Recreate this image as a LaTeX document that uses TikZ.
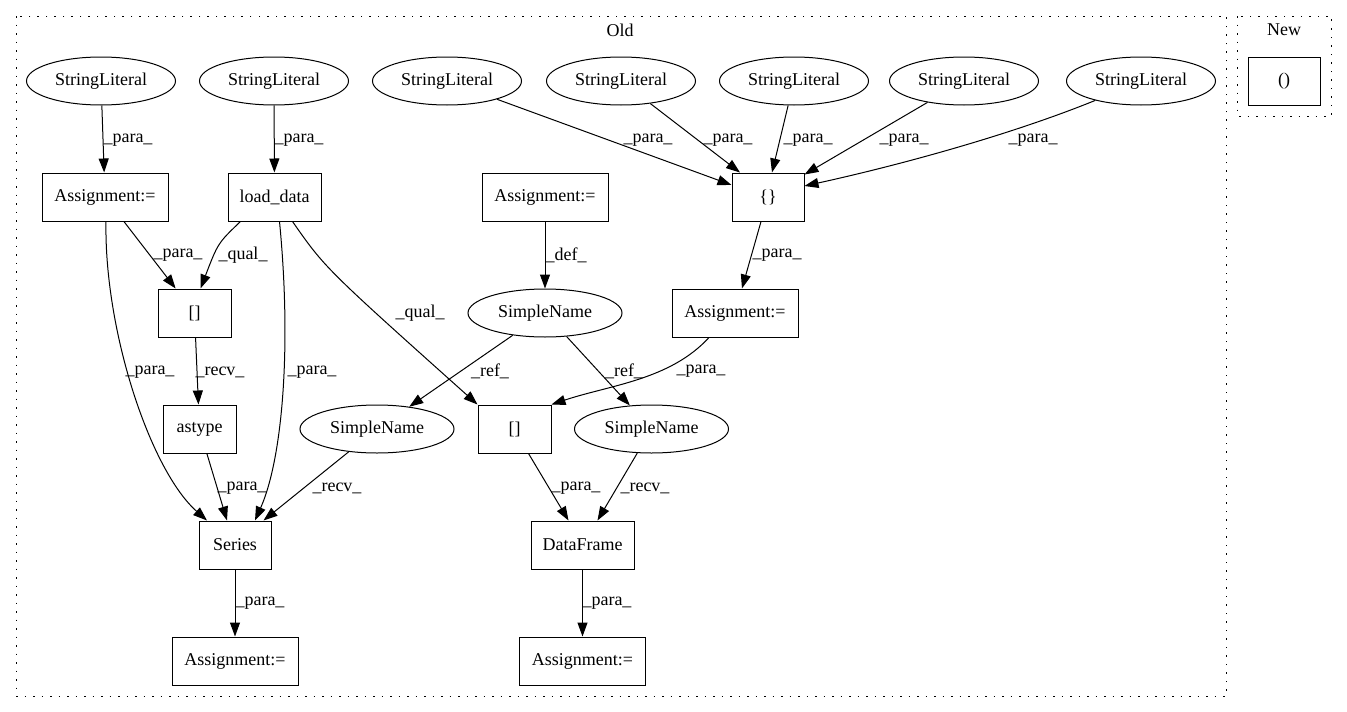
\documentclass[tikz,border=0pt]{standalone}
\usepackage{fontspec}
\setmainfont{Liberation Serif}
\usetikzlibrary{arrows.meta,shapes.geometric,calc}
\begin{document}
\begin{tikzpicture}[x=1pt,y=-1pt,
  every node/.style={font=\fontsize{18}{20}\selectfont},
  ell/.style={draw, ellipse, minimum width=149pt, minimum height=48pt, inner sep=0pt, line width=1pt},
  box/.style={draw, rectangle, minimum height=48pt, inner sep=0pt, line width=1pt},
  lbl/.style={inner sep=0pt},
  edge/.style={draw, line width=1pt, -{Triangle[length=14pt,width=10pt]}},
  cluster/.style={draw, line width=1pt, dash pattern=on 1.5pt off 7pt}]
\useasboundingbox (0,0) rectangle (1347,712);
\fill[white] (0,0) rectangle (1347,712);
% clusters
\draw[cluster] (16,16) rectangle (1226,696);
\node (oldlbl) at (620,30) {Old};
\draw[cluster] (1237,16) rectangle (1331,116);
\node (newlbl) at (1284,30) {New};
\node[box, minimum width=72pt] (nw) at (1284,81) {()};
% row 1
\node[ell] (sl1) at (101,81) {StringLiteral};
\node[ell] (sl2) at (274,81) {StringLiteral};
\node[ell] (sl3) at (447,81) {StringLiteral};
\node[ell] (sl4) at (621,81) {StringLiteral};
\node[ell] (sl5) at (794,81) {StringLiteral};
\node[ell] (sl6) at (964,81) {StringLiteral};
\node[ell] (sl7) at (1141,81) {StringLiteral};
% row 2
\node[box, minimum width=126pt] (a1) at (105,197) {Assignment:=};
\node[box, minimum width=93pt] (ld) at (274.5,197) {load\_data};
\node[box, minimum width=126pt] (a2) at (545,197) {Assignment:=};
\node[box, minimum width=72pt] (cb) at (768,197) {\{\}};
% row 3
\node[box, minimum width=73pt] (bl) at (194.5,313) {[]};
\node[ell, minimum width=154pt] (sn1) at (545,313) {SimpleName};
\node[box, minimum width=126pt] (a3) at (735,313) {Assignment:=};
% row 4
\node[box, minimum width=73pt] (ast) at (199.5,429) {astype};
\node[ell, minimum width=154pt] (snl) at (377,429) {SimpleName};
\node[box, minimum width=73pt] (bm) at (514.5,429) {[]};
\node[ell, minimum width=154pt] (snr) at (651.5,429) {SimpleName};
% row 5
\node[box, minimum width=72pt] (se) at (235,545) {Series};
\node[box, minimum width=103pt] (df) at (582.5,545) {DataFrame};
% row 6
\node[box, minimum width=126pt] (a4) at (235,661) {Assignment:=};
\node[box, minimum width=126pt] (a5) at (582.5,661) {Assignment:=};
% edges
\path[edge] (sl1) -- (a1);
\node[lbl] (l1) at (128,140) {\_para\_};
\path[edge] (sl2) -- (ld);
\node[lbl] (l2) at (299,140) {\_para\_};
\path[edge] (sl3) -- ([yshift=12pt]cb.west);
\node[lbl] (l3) at (648,140) {\_para\_};
\path[edge] (sl4) -- ([xshift=-28pt]cb.north);
\node[lbl] (l4) at (728,140) {\_para\_};
\path[edge] (sl5) -- ([xshift=4pt]cb.north);
\node[lbl] (l5) at (808,140) {\_para\_};
\path[edge] (sl6) -- ([yshift=-2pt]cb.north east);
\node[lbl] (l6) at (904,140) {\_para\_};
\path[edge] (sl7.203) .. controls (1010,135) and (900,165) .. ([yshift=11pt]cb.east);
\node[lbl] (l7) at (1033,140) {\_para\_};
\path[edge] (a2) -- (sn1);
\node[lbl] (l8) at (566,255) {\_def\_};
\path[edge] (cb) -- (a3);
\node[lbl] (l9) at (777,255) {\_para\_};
\path[edge] (a1) -- (bl);
\node[lbl] (l10) at (178,255) {\_para\_};
\path[edge] ([xshift=-34pt]ld.south) .. controls (218,243) .. ([xshift=6pt]bl.north);
\node[lbl] (l11) at (243,255) {\_qual\_};
\path[edge] ([xshift=18pt]ld.south) .. controls (325,268) .. (bm.north west);
\node[lbl] (l12) at (420,313) {\_qual\_};
\path[edge] ([xshift=1pt]a1.south) .. controls (104,330) and (150,470) .. ([xshift=-28pt]se.north);
\node[lbl] (l13) at (150,372) {\_para\_};
\path[edge] ([xshift=5pt]ld.south) .. controls (292,350) and (282,460) .. ([xshift=20pt]se.north);
\node[lbl] (l14) at (312,372) {\_para\_};
\path[edge] (bl) -- (ast);
\node[lbl] (l15) at (220,372) {\_recv\_};
\path[edge] (ast) -- ([xshift=-8pt]se.north);
\node[lbl] (l16) at (242,488) {\_para\_};
\path[edge] (snl) -- ([xshift=-8pt]se.north east);
\node[lbl] (l17) at (337,488) {\_recv\_};
\path[edge] (sn1) -- (snl);
\node[lbl] (l18) at (490,371) {\_ref\_};
\path[edge] (sn1) -- (snr);
\node[lbl] (l19) at (624,371) {\_ref\_};
\path[edge] ([xshift=-26pt]a3.south) .. controls (670,380) and (610,385) .. (bm.north east);
\node[lbl] (l20) at (701,371) {\_para\_};
\path[edge] ([xshift=14pt]bm.south) -- ([xshift=-14pt]df.north);
\node[lbl] (l21) at (576,488) {\_para\_};
\path[edge] (snr) -- ([xshift=15pt]df.north);
\node[lbl] (l22) at (645,488) {\_recv\_};
\path[edge] (se) -- (a4);
\node[lbl] (l23) at (260,603) {\_para\_};
\path[edge] (df) -- (a5);
\node[lbl] (l24) at (607,603) {\_para\_};
\end{tikzpicture}
\end{document}
